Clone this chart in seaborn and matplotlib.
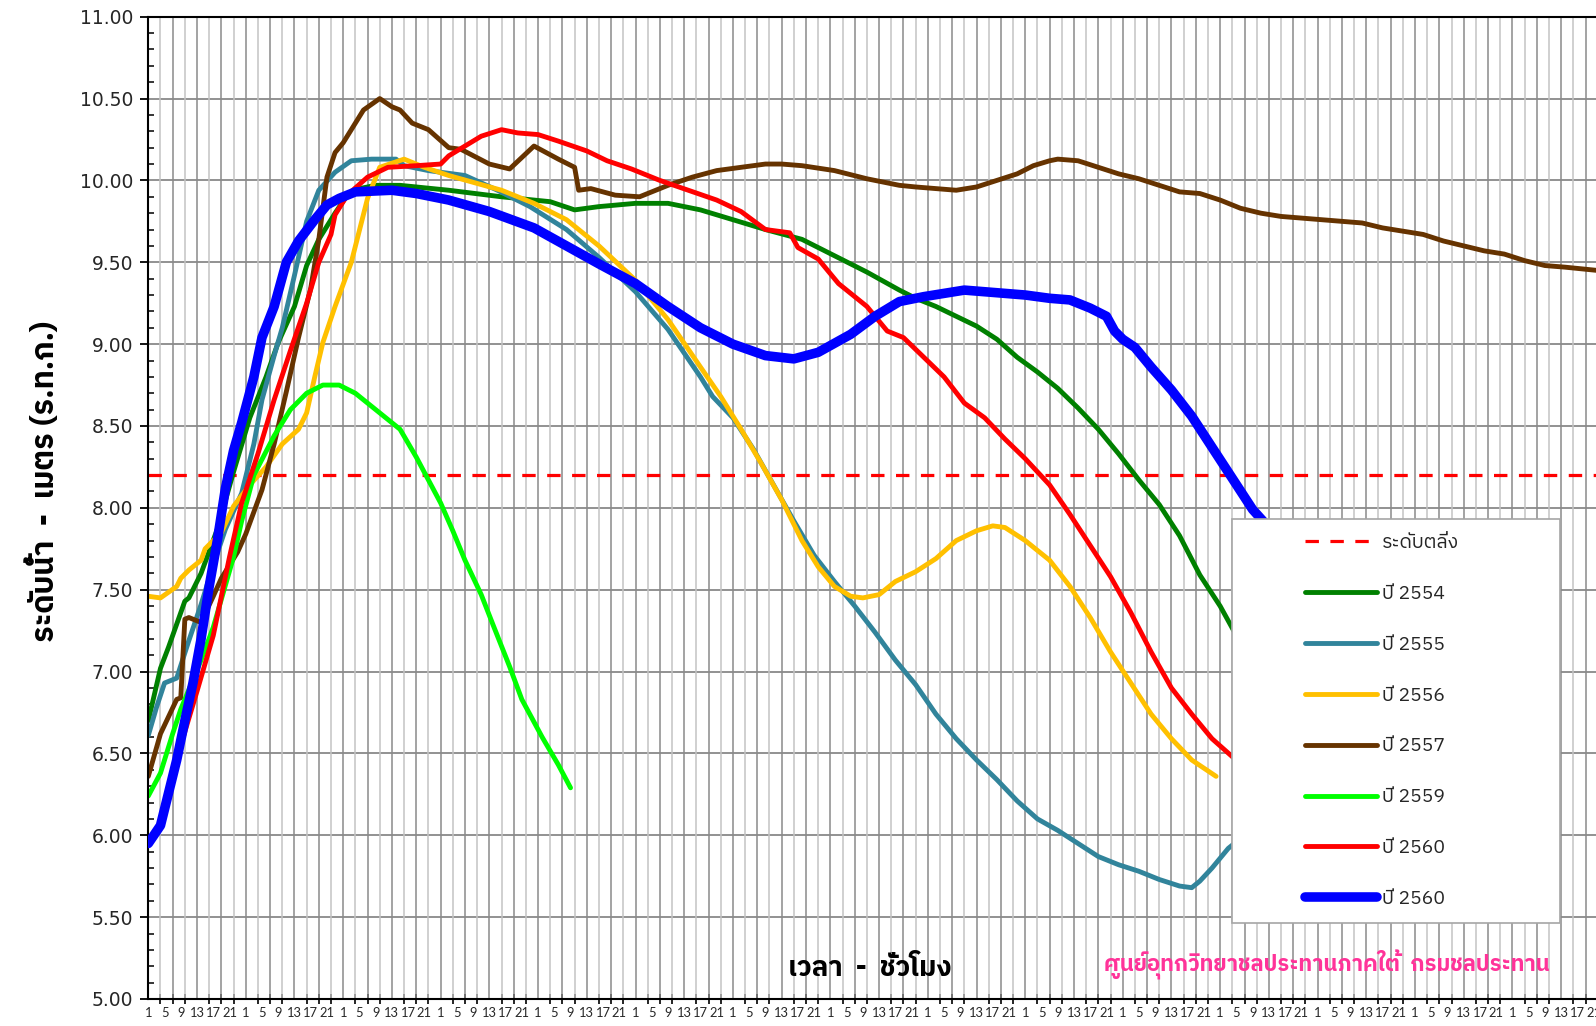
import numpy as np
import pandas as pd
import matplotlib
matplotlib.use("Agg")
import matplotlib.pyplot as plt
import seaborn as sns
from matplotlib import font_manager
from matplotlib.ft2font import FT2Font
from matplotlib.patches import Rectangle

# ---------------- data ----------------
BANK_LEVEL = 8.20
N_HOURS = 360

H_2554 = [0, 3, 5, 9, 10, 13, 17, 21, 25, 29, 32, 36, 39, 42, 46, 49, 52, 56, 62, 74, 87, 99, 105, 111, 120, 128,
          136, 144, 152, 161, 169, 177, 185, 189, 194, 199, 204, 209, 214, 219, 224, 229, 234, 239, 244, 249, 254,
          259, 264, 268, 272]
V_2554 = [6.70, 7.02, 7.15, 7.43, 7.45, 7.60, 7.87, 8.22, 8.55, 8.80, 9.01, 9.23, 9.48, 9.64, 9.80, 9.91, 9.95, 9.97,
          9.97, 9.94, 9.90, 9.87, 9.82, 9.84, 9.86, 9.86, 9.82, 9.76, 9.70, 9.64, 9.54, 9.44, 9.33, 9.28, 9.23, 9.17,
          9.11, 9.03, 8.92, 8.83, 8.73, 8.61, 8.48, 8.33, 8.17, 8.02, 7.83, 7.59, 7.40, 7.22, 7.05]

H_2555 = [0, 2, 4, 7, 10, 13, 16, 19, 23, 26, 28, 31, 33, 36, 39, 42, 46, 50, 55, 61, 63, 69, 78, 86, 94, 103, 111,
          120, 128, 136, 139, 144, 149, 154, 159, 164, 169, 174, 179, 184, 189, 194, 199, 204, 209, 214, 219, 224,
          229, 234, 239, 244, 249, 254, 257, 259, 262, 266, 270]
V_2555 = [6.61, 6.78, 6.93, 6.96, 7.19, 7.41, 7.65, 7.87, 8.09, 8.39, 8.66, 8.93, 9.10, 9.42, 9.75, 9.94, 10.05, 10.12,
          10.13, 10.13, 10.09, 10.06, 10.03, 9.94, 9.84, 9.70, 9.53, 9.32, 9.09, 8.80, 8.68, 8.55, 8.36, 8.14, 7.92,
          7.71, 7.55, 7.40, 7.24, 7.07, 6.92, 6.74, 6.59, 6.46, 6.34, 6.21, 6.10, 6.03, 5.95, 5.87, 5.82, 5.78, 5.73,
          5.69, 5.68, 5.72, 5.80, 5.92, 6.00]

H_2556 = [0, 3, 7, 8, 10, 13, 14, 18, 21, 25, 29, 33, 37, 39, 41, 43, 46, 50, 54, 57, 63, 68, 74, 87, 95, 103, 111,
          120, 128, 136, 141, 146, 151, 156, 161, 165, 169, 173, 176, 180, 184, 189, 194, 199, 204, 208, 211, 216,
          222, 227, 232, 237, 242, 247, 252, 257, 263]
V_2556 = [7.46, 7.45, 7.52, 7.57, 7.62, 7.68, 7.75, 7.85, 8.01, 8.14, 8.25, 8.39, 8.48, 8.58, 8.80, 9.01, 9.23, 9.50,
          9.89, 10.08, 10.13, 10.08, 10.03, 9.94, 9.86, 9.76, 9.60, 9.39, 9.15, 8.86, 8.68, 8.48, 8.27, 8.05, 7.80,
          7.64, 7.52, 7.46, 7.45, 7.47, 7.55, 7.61, 7.69, 7.80, 7.86, 7.89, 7.88, 7.80, 7.68, 7.52, 7.33, 7.12, 6.93,
          6.74, 6.59, 6.46, 6.36]

H_2557 = [0, 3, 7, 8, 9, 10, 13, 16, 18, 22, 24, 28, 31, 34, 37, 40, 42, 44, 46, 48, 53, 57, 60, 62, 65, 69, 74, 77,
          84, 89, 95, 101, 105, 106, 109, 115, 121, 128, 134, 140, 152, 156, 161, 169, 177, 185, 189, 194, 199, 204,
          209, 214, 218, 222, 224, 229, 234, 239, 244, 249, 254, 259, 264, 269, 274, 279, 284, 289, 294, 299, 304,
          309, 314, 319, 324, 329, 334, 339, 344, 349, 353, 357]
V_2557 = [6.36, 6.62, 6.83, 6.84, 7.32, 7.33, 7.30, 7.46, 7.57, 7.73, 7.84, 8.11, 8.39, 8.71, 9.04, 9.34, 9.64, 10.02,
          10.17, 10.23, 10.43, 10.50, 10.45, 10.43, 10.35, 10.31, 10.20, 10.19, 10.10, 10.07, 10.21, 10.13, 10.08,
          9.94, 9.95, 9.91, 9.90, 9.97, 10.02, 10.06, 10.10, 10.10, 10.09, 10.06, 10.01, 9.97, 9.96, 9.95, 9.94, 9.96,
          10.00, 10.04, 10.09, 10.12, 10.13, 10.12, 10.08, 10.04, 10.01, 9.97, 9.93, 9.92, 9.88, 9.83, 9.80, 9.78,
          9.77, 9.76, 9.75, 9.74, 9.71, 9.69, 9.67, 9.63, 9.60, 9.57, 9.55, 9.51, 9.48, 9.47, 9.46, 9.45]

H_2559 = [0, 3, 4, 6, 8, 13, 16, 21, 23, 26, 31, 35, 39, 43, 47, 51, 55, 62, 66, 69, 72, 75, 78, 82, 85, 89, 92, 97,
          101, 104]
V_2559 = [6.24, 6.38, 6.46, 6.62, 6.77, 7.07, 7.27, 7.70, 7.92, 8.20, 8.44, 8.60, 8.70, 8.75, 8.75, 8.70, 8.62, 8.48,
          8.31, 8.17, 8.03, 7.86, 7.68, 7.47, 7.28, 7.03, 6.83, 6.60, 6.43, 6.29]

H_2560 = [5, 8, 12, 16, 20, 23, 27, 31, 35, 39, 42, 45, 46, 49, 54, 59, 66, 72, 74, 78, 82, 87, 91, 96, 101, 108,
          113, 119, 126, 133, 140, 146, 152, 158, 160, 165, 170, 177, 182, 186, 191, 196, 201, 206, 211, 216, 222,
          227, 232, 237, 242, 247, 252, 257, 262, 267, 272]
V_2560 = [6.25, 6.55, 6.88, 7.22, 7.70, 8.03, 8.33, 8.66, 8.96, 9.25, 9.50, 9.67, 9.79, 9.91, 10.02, 10.08, 10.09,
          10.10, 10.15, 10.21, 10.27, 10.31, 10.29, 10.28, 10.24, 10.18, 10.12, 10.07, 10.00, 9.94, 9.88, 9.81, 9.70,
          9.68, 9.59, 9.52, 9.37, 9.23, 9.08, 9.04, 8.92, 8.80, 8.64, 8.55, 8.42, 8.30, 8.14, 7.96, 7.77, 7.58, 7.36,
          7.12, 6.90, 6.74, 6.59, 6.48, 6.38]

H_2560B = [0, 3, 5, 7, 9, 11, 13, 15, 17, 19, 21, 23, 26, 28, 31, 34, 37, 41, 44, 47, 51, 60, 66, 74, 84, 95, 103,
           111, 120, 128, 136, 144, 152, 159, 165, 173, 179, 185, 191, 196, 201, 206, 211, 216, 222, 227, 232, 236,
           238, 240, 243, 247, 252, 257, 262, 267, 272, 276]
V_2560B = [5.95, 6.06, 6.26, 6.46, 6.70, 6.93, 7.20, 7.52, 7.80, 8.12, 8.35, 8.52, 8.80, 9.04, 9.23, 9.50, 9.63, 9.76,
           9.85, 9.89, 9.93, 9.94, 9.92, 9.88, 9.81, 9.71, 9.60, 9.49, 9.37, 9.23, 9.10, 9.00, 8.93, 8.91, 8.95, 9.06,
           9.17, 9.26, 9.29, 9.31, 9.33, 9.32, 9.31, 9.30, 9.28, 9.27, 9.22, 9.17, 9.08, 9.03, 8.98, 8.86, 8.72, 8.56,
           8.37, 8.18, 7.99, 7.88]

SERIES = ["ปี 2554", "ปี 2555", "ปี 2556", "ปี 2557", "ปี 2559", "ปี 2560", "ปี 2560 "]
COLORS = ["#008000", "#31849B", "#FFC000", "#663300", "#00FF00", "#FF0000", "#0000FF"]
WIDTHS = [3.5, 3.5, 3.5, 3.5, 3.5, 3.5, 6.9]
HOURS = [H_2554, H_2555, H_2556, H_2557, H_2559, H_2560, H_2560B]
VALUES = [V_2554, V_2555, V_2556, V_2557, V_2559, V_2560, V_2560B]

BANK_LABEL = "ระดับตลิ่ง"
XLABEL = "เวลา  -  ชั่วโมง"
YLABEL = "ระดับน้ำ  -  เมตร (ร.ท.ก.)"
CREDIT = "ศูนย์อุทกวิทยาชลประทานภาคใต้  กรมชลประทาน"

# ---------------- fonts ----------------
sns.set_theme(style="white")


def thai_families():
    found = []
    for f in font_manager.fontManager.ttflist:
        try:
            cm = FT2Font(f.fname).get_charmap()
            if 0x0E1A in cm and 0x0E49 in cm and 0x0E2A in cm:
                if f.name not in found:
                    found.append(f.name)
        except Exception:
            pass
    found.sort(key=lambda n: (0 if "Thai" in n and "Looped" not in n else 1, 0 if "UI" not in n else 1))
    return found


TH = thai_families()
FAM = (TH[:1] + ["DejaVu Sans"]) if TH else ["DejaVu Sans"]
plt.rcParams["font.family"] = FAM
plt.rcParams["axes.unicode_minus"] = False

# ---------------- figure ----------------
W, H = 1596, 1026
fig = plt.figure(figsize=(W / 100, H / 100), dpi=100)
px_per_hour = 4.06
ax_left, ax_bottom, ax_top = 148.3, 999.0, 16.7
ax = fig.add_axes([ax_left / W, 1 - ax_bottom / H, (N_HOURS - 1) * px_per_hour / W, (ax_bottom - ax_top) / H])
ax.set_facecolor("white")

# vertical grid lines every 3 hours, alternating tones
grid_x = np.arange(0, N_HOURS, 3)
ax.vlines(grid_x[0::2], 5, 11, colors="#8a8a8a", lw=1.1, zorder=0.6)
ax.vlines(grid_x[1::2], 5, 11, colors="#c4c4c4", lw=1.1, zorder=0.6)

ax.axhline(BANK_LEVEL, color="#FF0000", lw=2.3, ls=(0, (4.2, 3.6)), zorder=1.5, label=BANK_LABEL)

rows = []
for name, hs, vs in zip(SERIES, HOURS, VALUES):
    for h_, v_ in zip(hs, vs):
        rows.append({"series": name, "hour": h_, "level": v_})
df = pd.DataFrame(rows)

for i, (name, col, lw) in enumerate(zip(SERIES, COLORS, WIDTHS)):
    sub = df[df["series"] == name]
    sns.lineplot(data=sub, x="hour", y="level", ax=ax, color=col, lw=lw, label=name.strip(),
                 sort=False, estimator=None, solid_capstyle="round", solid_joinstyle="round", zorder=2 + i * 0.1)

ax.set_xlim(0, N_HOURS - 1)
ax.set_ylim(5, 11)
ax.set_xlabel("")
ax.set_ylabel("")

# y axis
ax.set_yticks(np.arange(5, 11.01, 0.5))
ax.set_yticklabels([f"{v:.2f}" for v in np.arange(5, 11.01, 0.5)], fontfamily="DejaVu Sans", fontsize=13.5)
ax.set_yticks(np.arange(5, 11.01, 0.1), minor=True)
ax.tick_params(axis="y", which="major", direction="out", length=6, width=1.3, color="black", pad=5, left=True)
ax.tick_params(axis="y", which="minor", direction="in", length=4.5, width=1.1, color="black", left=True)
ax.yaxis.grid(True, which="major", color="#7f7f7f", lw=1.2)
ax.set_axisbelow(True)

# x axis: labels every 4 h, tick marks every 3 h
lab_pos = np.arange(0, N_HOURS, 4)
ax.set_xticks(lab_pos)
ax.set_xticklabels([str(p % 24 + 1) for p in lab_pos], fontfamily="Lato", fontsize=9.3)
ax.set_xticks(grid_x, minor=True)
ax.tick_params(axis="x", which="major", length=0, pad=6, bottom=True)
ax.tick_params(axis="x", which="minor", direction="inout", length=6.5, width=1.2, color="black", bottom=True)
ax.xaxis.grid(False)

for side in ["left", "bottom", "top"]:
    ax.spines[side].set_visible(True)
    ax.spines[side].set_color("black")
    ax.spines[side].set_linewidth(1.5)
ax.spines["right"].set_visible(False)

# legend box + legend
bx0, bx1, by0, by1 = 1232, 1560, 519, 923
ax.add_patch(Rectangle((bx0 / W, 1 - by1 / H), (bx1 - bx0) / W, (by1 - by0) / H, transform=fig.transFigure,
                       facecolor="white", edgecolor="#a6a6a6", lw=1.2, zorder=4, clip_on=False))
handles, labels = ax.get_legend_handles_labels()
leg = ax.legend(handles, labels, loc="upper left", bbox_to_anchor=(1305 / W, 1 - 534 / H),
                bbox_transform=fig.transFigure, frameon=False, fontsize=14, handlelength=3.7,
                handletextpad=0.25, labelspacing=1.69, borderpad=0, borderaxespad=0)
leg.set_zorder(5)

# texts
fig.text(870 / W, 1 - 969 / H, XLABEL, ha="center", va="center", fontsize=20, fontweight="bold", color="black")
fig.text(1327 / W, 1 - 965 / H, CREDIT, ha="center", va="center", fontsize=15.8, fontweight="bold",
         color="#FF3399")
fig.text(43 / W, 1 - 481 / H, YLABEL, ha="center", va="center", rotation=90, fontsize=22, fontweight="bold",
         color="black")

fig.savefig("out.png", dpi=100, facecolor="white")
